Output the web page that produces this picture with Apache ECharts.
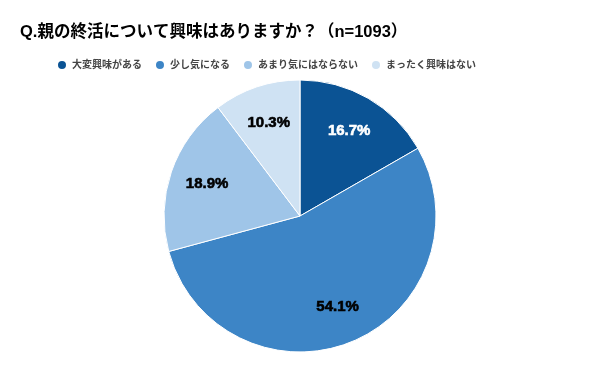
<!DOCTYPE html>
<html><head><meta charset="utf-8">
<script src="https://cdn.jsdelivr.net/npm/echarts@6/dist/echarts.min.js"></script>
<style>html,body{margin:0;padding:0;background:#fff}#c{width:600px;height:371px}</style>
</head><body><div id="c"></div>
<script>
const categories = ['大変興味がある','少し気になる','あまり気にはならない','まったく興味はない'];
const values = [16.7, 54.1, 18.9, 10.3];
const colors = ['#0B5394','#3D85C6','#9FC5E8','#CFE2F3'];
const labelColors = ['#ffffff','#000000','#000000','#000000'];
const titleText = 'Q.親の終活について興味はありますか？（n=1093）';

const font = '"Liberation Sans", "Noto Sans CJK JP", sans-serif';
const chart = echarts.init(document.getElementById('c'));
const center = [300, 216];
const R = 136;
chart.setOption({
  animation: false,
  title: { text: titleText, left: 15, top: 19, textStyle: { fontFamily: font, fontSize: 16.5, fontWeight: 'bold', color: '#000' } },
  legend: {
    data: categories, left: 51, top: 54, icon: 'circle', itemWidth: 10, itemHeight: 10, itemGap: 12,
    textStyle: { fontFamily: font, fontSize: 10, fontWeight: 'bold', color: '#444' }
  },
  series: [
    {
      type: 'pie', center: center, radius: [0, R], startAngle: 90, clockwise: true,
      label: { show: false }, labelLine: { show: false },
      itemStyle: { borderColor: '#fff', borderWidth: 1 },
      data: categories.map((n, i) => ({ name: n, value: values[i], itemStyle: { color: colors[i] } }))
    },
    {
      type: 'pie', center: center, radius: [R * 0.4, R], startAngle: 90, clockwise: true, silent: true,
      legendHoverLink: false,
      labelLine: { show: false },
      label: { show: true, position: 'inside', fontFamily: '"Liberation Sans", Arial, sans-serif', fontSize: 15, fontWeight: 'bold', formatter: p => p.value.toFixed(1) + '%' },
      itemStyle: { color: 'rgba(0,0,0,0)' },
      data: categories.map((n, i) => ({ name: n + ' ', value: values[i], label: { color: labelColors[i], textBorderColor: labelColors[i], textBorderWidth: 0.6 } }))
    }
  ]
});
</script></body></html>
